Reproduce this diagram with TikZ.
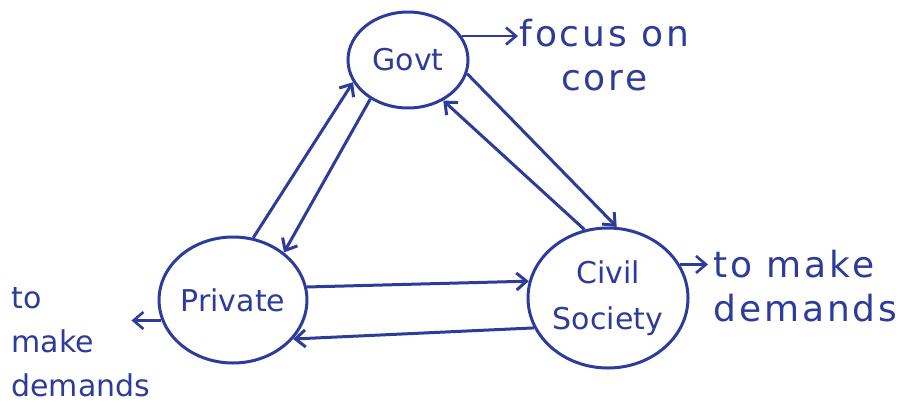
\documentclass[tikz,border=0pt]{standalone}
\usepackage{fontspec}
\setmainfont{DejaVu Sans}
\newfontfamily\handfont[LetterSpace=8]{DejaVu Sans}
\usetikzlibrary{shapes.geometric, arrows.meta, calc, positioning}
\definecolor{ink}{RGB}{45,60,155}
\tikzstyle{actor} = [ellipse, draw, inner sep=0pt, align=center, font=\fontsize{30}{46}\selectfont]
\tikzstyle{remark} = [inner sep=0pt, font=\handfont\fontsize{36}{44}\selectfont]

\begin{document}
\begin{tikzpicture}[x=1pt, y=-1pt, ink, line width=3pt, >={Straight Barb[length=10pt,width=17pt]}]
        \useasboundingbox (0,0) rectangle (905,405);

        \node[actor, minimum width=120pt, minimum height=96pt] at (408, 60) (Govt) {Govt};
        \node[actor, minimum width=140pt, minimum height=126pt] at (233, 300) (Private) {Private};
        \node[actor, minimum width=160pt, minimum height=140pt] at (608, 298) (Civil) {Civil\\Society};

        \node[remark, align=center, anchor=west] at (518, 55) (focus) {focus on\\core};
        \node[remark, align=left, anchor=west] at (712, 286) (demandsR) {to make\\demands};
        \node[remark, align=left, anchor=west, font=\fontsize{30}{44}\selectfont] at (10, 342) (demandsL) {to\\make\\demands};

        \draw[->] (Private.72) -- (Govt.202);
        \draw[->] (Govt.226) -- (Private.43);
        \draw[->] (Civil.109) -- (Govt.311);
        \draw[->] (Govt.347) -- (Civil.83);
        \draw[->] (Private.10) -- (Civil.168);
        \draw[->] (Civil.202) -- (Private.327);

        \draw[->, line width=2.6pt] (Govt.24) -- (focus.west |- Govt.24);
        \draw[->, line width=2.6pt] (Civil.25) -- ($(demandsR.west |- Civil.25)+(-4,0)$);
        \draw[->, line width=2.6pt] (Private.196) -- ++(-30, 0);

    \end{tikzpicture}
\end{document}
